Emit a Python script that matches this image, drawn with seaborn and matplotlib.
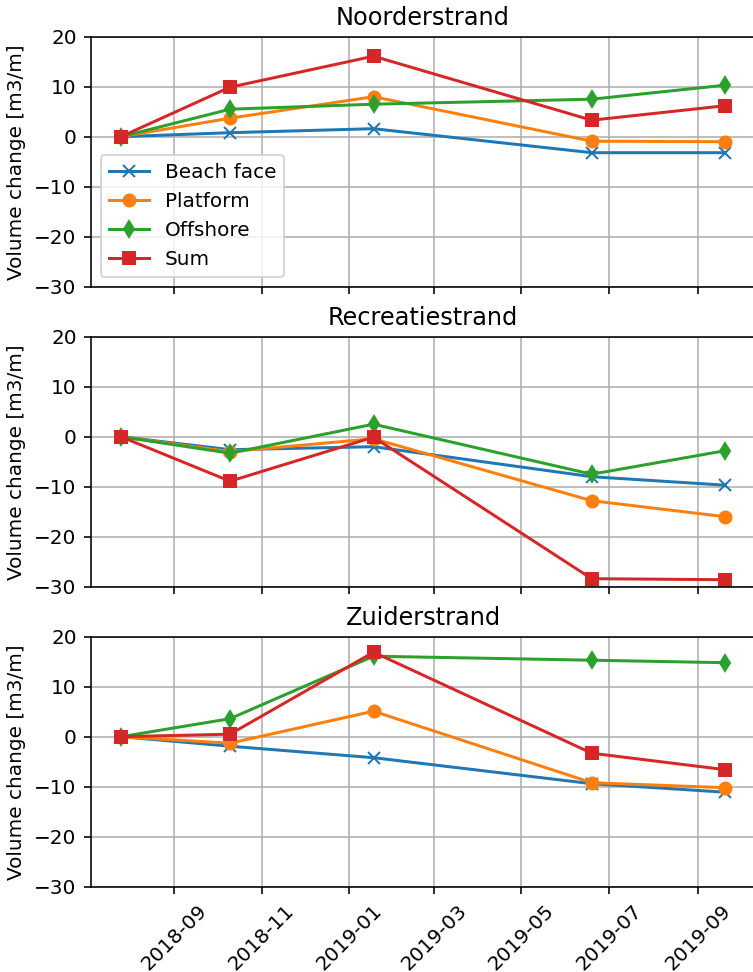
import numpy as np
import pandas as pd
import matplotlib
matplotlib.use("Agg")
import matplotlib.pyplot as plt
import matplotlib.dates as mdates
import seaborn as sns

# ---- data ----
dates = pd.to_datetime(["2018-07-26", "2018-10-10", "2019-01-18", "2019-06-19", "2019-09-20"])
series_names = ["Beach face", "Platform", "Offshore", "Sum"]
titles = ["Noorderstrand", "Recreatiestrand", "Zuiderstrand"]

noord_beach = [0.0, 0.8, 1.6, -3.2, -3.2]
noord_platform = [0.0, 3.7, 8.0, -0.9, -1.0]
noord_offshore = [0.0, 5.5, 6.5, 7.5, 10.3]
noord_sum = [0.0, 9.9, 16.1, 3.3, 6.2]

recr_beach = [0.0, -2.6, -2.0, -8.0, -9.7]
recr_platform = [0.0, -3.0, -0.4, -12.8, -16.0]
recr_offshore = [0.0, -3.3, 2.5, -7.5, -2.8]
recr_sum = [0.0, -8.9, -0.1, -28.4, -28.6]

zuid_beach = [0.0, -1.9, -4.2, -9.4, -11.1]
zuid_platform = [0.0, -1.3, 5.1, -9.2, -10.2]
zuid_offshore = [0.0, 3.6, 16.1, 15.3, 14.8]
zuid_sum = [0.0, 0.5, 16.9, -3.3, -6.6]

panels = [
    [noord_beach, noord_platform, noord_offshore, noord_sum],
    [recr_beach, recr_platform, recr_offshore, recr_sum],
    [zuid_beach, zuid_platform, zuid_offshore, zuid_sum],
]

colors = ["#1f77b4", "#ff7f0e", "#2ca02c", "#d62728"]
markers = ["x", "o", "d", "s"]

dpi = 144
fig, axes = plt.subplots(3, 1, sharex=True, figsize=(753 / dpi, 972 / dpi), dpi=dpi)

W, H = 753.0, 972.0
left_px, right_px = 90.7, 755.4
tops_px = [36.7, 336.7, 636.7]
ax_h = 250.0

for i, ax in enumerate(axes):
    ax.set_position([left_px / W, (H - tops_px[i] - ax_h) / H,
                     (right_px - left_px) / W, ax_h / H])
    for name, vals, c, m in zip(series_names, panels[i], colors, markers):
        sns.lineplot(x=dates, y=vals, ax=ax, color=c, marker=m, label=name,
                     markeredgecolor=c, markeredgewidth=1.0, markersize=6,
                     linewidth=1.5, legend=(i == 0))
    ax.set_title(titles[i], fontsize=12)
    ax.set_ylim(-30, 20)
    ax.set_yticks([-30, -20, -10, 0, 10, 20])
    ax.set_ylabel("Volume change [m3/m]", fontsize=10)
    ax.set_xlabel("")
    ax.grid(True, color="#b0b0b0", linewidth=0.8)
    ax.set_axisbelow(True)
    for s in ax.spines.values():
        s.set_color("black")
        s.set_linewidth(0.8)
    ax.tick_params(labelsize=10)
    if i == 0:
        ax.legend(loc="lower left", fontsize=10)
    else:
        leg = ax.get_legend()
        if leg is not None:
            leg.remove()

axes[-1].xaxis.set_major_locator(mdates.MonthLocator(bymonth=[1, 3, 5, 7, 9, 11]))
axes[-1].xaxis.set_major_formatter(mdates.DateFormatter("%Y-%m"))
axes[-1].margins(x=0.05)
for lbl in axes[-1].get_xticklabels():
    lbl.set_rotation(45)
    lbl.set_ha("center")

fig.savefig("out.png", dpi=dpi)
